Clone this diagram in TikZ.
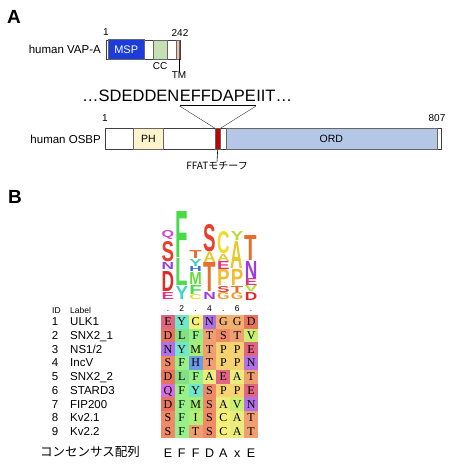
\documentclass[tikz,border=0pt]{standalone}
\usepackage{fontspec}
\setmainfont{Liberation Sans}
\newfontfamily\cellfont{Liberation Serif}
\newfontfamily\cjk{Noto Sans CJK JP}
\usetikzlibrary{positioning,calc}
\newcommand\pxfont[1]{\fontsize{#1}{#1}\selectfont}

% domain colours
\definecolor{mspblue}{HTML}{1C3CDC}
\definecolor{ccgreen}{HTML}{C6E0B4}
\definecolor{tmtan}{HTML}{F2C2A2}
\definecolor{phyellow}{HTML}{FFF2CC}
\definecolor{ffatred}{HTML}{C00000}
\definecolor{ordblue}{HTML}{B4C7E7}
% logo colours
\definecolor{lgS}{HTML}{E8402C}
\definecolor{lgD}{HTML}{E02A2A}
\definecolor{lgE}{HTML}{E0357E}
\definecolor{lgN}{HTML}{9A3CE6}
\definecolor{lgQ}{HTML}{CF45D6}
\definecolor{lgF}{HTML}{45DC45}
\definecolor{lgL}{HTML}{52D852}
\definecolor{lgY}{HTML}{3CD6C8}
\definecolor{lgM}{HTML}{62DC3C}
\definecolor{lgH}{HTML}{3370E0}
\definecolor{lgT}{HTML}{E86E2C}
\definecolor{lgC}{HTML}{EEDC30}
\definecolor{lgG}{HTML}{F09A30}
\definecolor{lgP}{HTML}{F0BC30}
\definecolor{lgA}{HTML}{E6C830}
\definecolor{lgV}{HTML}{B8DC30}
% alignment cell colours
\definecolor{clS}{HTML}{EE8A68}
\definecolor{clD}{HTML}{E87460}
\definecolor{clE}{HTML}{E26682}
\definecolor{clN}{HTML}{B070E6}
\definecolor{clQ}{HTML}{D66CDE}
\definecolor{clF}{HTML}{98F088}
\definecolor{clL}{HTML}{84E084}
\definecolor{clY}{HTML}{72E6CA}
\definecolor{clM}{HTML}{A4EE76}
\definecolor{clH}{HTML}{6C9AE6}
\definecolor{clT}{HTML}{F0A070}
\definecolor{clC}{HTML}{F6F07A}
\definecolor{clG}{HTML}{F2B070}
\definecolor{clP}{HTML}{F6D272}
\definecolor{clA}{HTML}{EAEC7E}
\definecolor{clV}{HTML}{CAF070}
\definecolor{clI}{HTML}{B2F076}

\begin{document}
\begin{tikzpicture}[x=1pt,y=-1pt,
    panel/.style={inner sep=0, anchor=base west, font=\bfseries\pxfont{19}},
    bar/.style={draw=black!75, line width=0.6pt, inner sep=0, anchor=north west},
    dom/.style={draw=black!60, line width=0.4pt, inner sep=0, anchor=north west, font=\pxfont{10.5}},
    numlab/.style={inner sep=0, anchor=base, font=\pxfont{10}},
    seq/.style={inner sep=0, anchor=base west, font=\pxfont{16.5}},
    logoletter/.style={inner sep=0, anchor=south, font=\bfseries},
    cell/.style={inner sep=0, minimum width=13.86pt, minimum height=13.7pt,
      text height=8pt, text depth=0pt, font=\cellfont\pxfont{12}},
    rowlab/.style={inner sep=0, anchor=base west, font=\pxfont{11.5}}]
  \useasboundingbox (0,0) rectangle (459,473);

  % Panel A
  \node[panel] (labA) at (7,24) {A};
  % VAP-A
  \node[bar, minimum width=74pt, minimum height=19pt] (vap) at (106,40) {};
  \node[dom, fill=mspblue, text=white, minimum width=36pt, minimum height=19.5pt,
    font=\pxfont{11}] (msp) at (108,39.5) {MSP};
  \node[dom, fill=ccgreen, minimum width=13.5pt, minimum height=19pt] (cc) at (153,40) {};
  \node[dom, fill=tmtan, minimum width=2.5pt, minimum height=19pt] (tm) at (176,40) {};
  \node[numlab] (vapstart) at (106,36) {1};
  \node[numlab] (vapend) at (180,37) {242};
  \node[inner sep=0, anchor=base east, font=\pxfont{11.5}] (vapname) at (101,54) {human VAP-A};
  \node[numlab] (cclab) at (160,70) {CC};
  \node[numlab] (tmlab) at (179,79) {TM};
  \draw[line width=0.6pt] (tm.south east) -- (tm.south east |- tmlab.north);

  % FFAT sequence
  \node[seq] (seqL) at (82,102) {…SDEDDEN};
  \node[seq] (motif) at (seqL.base east) {EFFDAPE};
  \node[seq] (seqR) at (motif.base east) {IIT…};
  \draw[line width=0.6pt] ([yshift=-3pt]motif.base west) -- ([yshift=-3pt]motif.base east);

  % OSBP
  \node[bar, minimum width=336pt, minimum height=21pt] (osbp) at (105,128.3) {};
  \node[dom, fill=phyellow, minimum width=30pt, minimum height=21pt] (ph) at (133.3,128.3) {PH};
  \node[dom, fill=ffatred, minimum width=5pt, minimum height=21pt] (ffat) at (215,128.3) {};
  \node[dom, fill=ordblue, minimum width=211pt, minimum height=21pt] (ord) at (225.7,128.3) {ORD};
  \node[numlab] (osbpstart) at (105,122) {1};
  \node[numlab] (osbpend) at (437,122) {807};
  \node[inner sep=0, anchor=base east, font=\pxfont{11.5}] (osbpname) at (101,143) {human OSBP};
  \node[inner sep=0, anchor=north, font=\cjk\pxfont{10}] (ffatlab) at (217,161.5) {FFATモチーフ};
  \draw[black!80] ([yshift=-4pt]motif.base west) -- (ffat.north west);
  \draw[black!80] ([yshift=-4pt]motif.base east) -- (ffat.north east);
  \draw[line width=0.6pt] (ffat.south) -- (ffatlab.north);

  % Panel B
  \node[panel] (labB) at (8,203) {B};

  % Sequence logo
  \foreach \col/\res/\ybase/\hgt in {
      1/E/300/7, 1/D/292/20, 1/N/270/7, 1/S/262/20, 1/Q/240/7,
      2/Y/300/13, 2/L/286/27, 2/F/258/46,
      3/C/300/5, 3/F/295/9, 3/M/285/12, 3/H/272/5, 3/Y/267/7, 3/T/259/8,
      4/N/300/7, 4/T/292/29, 4/A/263/10, 4/S/252/27,
      5/G/300/7, 5/S/293/6, 5/P/286/16, 5/E/270/8, 5/A/262/7, 5/C/254/22,
      6/G/300/7, 6/T/293/6, 6/P/286/16, 6/A/269/27,
      7/D/301/8, 7/V/292/6, 7/E/286/7, 7/N/279/17, 7/T/261/25}
    \node[logoletter, text=lg\res] (logo-\col-\res) at ({161+(\col-0.5)*13.86},\ybase)
      {\resizebox{12.5pt}{\hgt pt}{\res}};
  \node[logoletter, text=lgV] (logo-6-top) at ({161+5.5*13.86},241) {\resizebox{12.5pt}{9pt}{Y}};

  % Column numbers and header
  \foreach \c/\t in {1/.,2/2,3/.,4/4,5/.,6/6,7/.}
    \node[inner sep=0, anchor=base, font=\pxfont{8.5}] (colnum-\c) at ({161+(\c-0.5)*13.86},311) {\t};
  \node[inner sep=0, anchor=base west, font=\pxfont{8.5}] (hdrid) at (52,313) {ID};
  \node[inner sep=0, anchor=base west, font=\pxfont{8.5}] (hdrlabel) at (70,313) {Label};

  % Alignment
  \foreach \id/\name/\seq in {1/ULK1/{E,Y,C,N,G,G,D}, 2/SNX2\_1/{D,L,F,T,S,T,V},
      3/{NS1/2}/{N,Y,M,T,P,P,E}, 4/IncV/{S,F,H,T,P,P,N}, 5/SNX2\_2/{D,L,F,A,E,A,T},
      6/STARD3/{Q,F,Y,S,P,P,E}, 7/FIP200/{D,F,M,S,A,V,N}, 8/Kv2.1/{S,F,I,S,C,A,T},
      9/Kv2.2/{S,F,T,S,C,A,T}} {
    \node[rowlab, anchor=base] (id-\id) at (55,{315+(\id-0.5)*13.7+4}) {\id};
    \node[rowlab] (name-\id) at (70,{315+(\id-0.5)*13.7+4}) {\name};
    \foreach \r [count=\c] in \seq
      \node[cell, fill=cl\r] (cell-\id-\c) at ({161+(\c-0.5)*13.86},{315+(\id-0.5)*13.7}) {\r};
  }

  % Consensus
  \node[inner sep=0, anchor=west, font=\cjk\pxfont{12.5}] (conslab) at (40,452) {コンセンサス配列};
  \foreach \r [count=\c] in {E,F,F,D,A,x,E}
    \node[inner sep=0, anchor=base, font=\pxfont{12.5}] (cons-\c) at ({161+(\c-0.5)*13.86},457) {\r};
\end{tikzpicture}
\end{document}
